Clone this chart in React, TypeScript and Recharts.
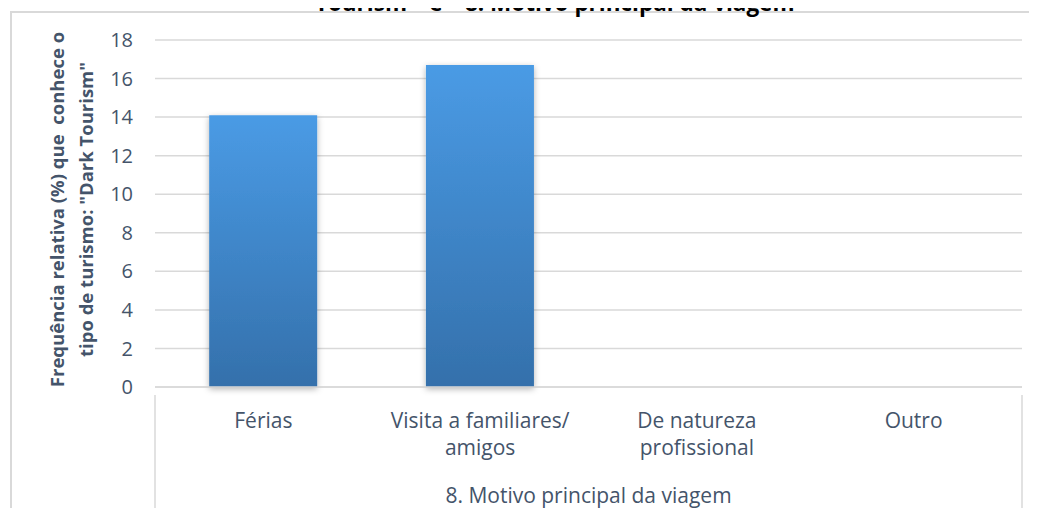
import React from "react";
import { BarChart, Bar, XAxis, YAxis, CartesianGrid } from "recharts";

const categories = ["Férias", "Visita a familiares/\namigos", "De natureza\nprofissional", "Outro"];
const frequencies = [14.1, 16.7, 0, 0];
const yTicks = [0, 2, 4, 6, 8, 10, 12, 14, 16, 18];

const titleText = 'Tourism"  e  "8. Motivo principal da viagem"';
const yLabelLines = ['Frequência relativa (%) que  conhece o', 'tipo de turismo: "Dark Tourism"'];
const groupLabel = "8. Motivo principal da viagem";

const data = categories.map((name, i) => ({ name, value: frequencies[i] }));

const W = 1037;
const H = 516;
const margin = { top: 40, right: 15, left: 0, bottom: 0 };
const yAxisWidth = 155;
const xAxisHeight = 129;
const band = (W - margin.left - margin.right - yAxisWidth) / categories.length;

const textColor = "#44546A";
const gridColor = "#D9D9D9";
const font = "'Open Sans', Lato, sans-serif";

function CategoryTick(props: any) {
  const { x, y, payload, index } = props;
  const lines = String(payload.value).split("\n");
  return (
    <g>
      {index === 0 && (
        <line x1={x - band / 2} y1={y} x2={x - band / 2} y2={y + 123} stroke={gridColor} strokeWidth={1.5} />
      )}
      {index === categories.length - 1 && (
        <line x1={x + band / 2} y1={y} x2={x + band / 2} y2={y + 123} stroke={gridColor} strokeWidth={1.5} />
      )}
      <text x={x} y={y + 33} textAnchor="middle" fill={textColor} fontSize={21} fontFamily={font}>
        {lines.map((l, i) => (
          <tspan key={i} x={x} dy={i === 0 ? 0 : 27}>
            {l}
          </tspan>
        ))}
      </text>
    </g>
  );
}

function YLabel(props: any) {
  const { viewBox } = props;
  const cy = viewBox.y + viewBox.height / 2 - 4;
  const cx = 58;
  return (
    <text
      transform={`translate(${cx}, ${cy}) rotate(-90)`}
      textAnchor="middle"
      fill={textColor}
      fontSize={18.5}
      fontWeight="bold"
      fontFamily={font}
      style={{ whiteSpace: "pre" }}
    >
      {yLabelLines.map((l, i) => (
        <tspan key={i} x={0} dy={i === 0 ? 6 : 29}>
          {l}
        </tspan>
      ))}
    </text>
  );
}

export default function App() {
  return (
    <div
      style={{
        position: "relative",
        width: W,
        height: H,
        margin: -8,
        overflow: "hidden",
        background: "#fff",
        fontFamily: font,
      }}
    >
      <div
        style={{
          position: "absolute",
          left: 10,
          top: 11,
          width: W,
          height: H,
          borderLeft: `2px solid ${gridColor}`,
          borderTop: `2px solid ${gridColor}`,
          boxSizing: "border-box",
        }}
      />
      <svg style={{ position: "absolute", left: 0, top: 0 }} width={W} height={20}>
        <text
          x={560}
          y={11}
          textAnchor="middle"
          fontSize={22.5}
          fontWeight="bold"
          fontFamily={font}
          fill="#000"
          style={{ whiteSpace: "pre" }}
        >
          {titleText}
        </text>
      </svg>
      <div style={{ position: "absolute", left: 0, top: 0 }}>
        <BarChart width={W} height={H} data={data} margin={margin} barCategoryGap="25%">
          <defs>
            <linearGradient id="barFill" x1="0" y1="0" x2="0" y2="1">
              <stop offset="0%" stopColor="#4A9BE5" />
              <stop offset="100%" stopColor="#3470AB" />
            </linearGradient>
            <filter id="barShadow" x="-20%" y="-10%" width="140%" height="120%">
              <feDropShadow dx="0" dy="2" stdDeviation="3" floodColor="#000" floodOpacity="0.3" />
            </filter>
          </defs>
          <CartesianGrid vertical={false} stroke={gridColor} strokeWidth={1.5} />
          <YAxis
            width={yAxisWidth}
            domain={[0, 18]}
            ticks={yTicks}
            axisLine={false}
            tickLine={false}
            tickSize={0}
            tickMargin={22}
            tick={{ fill: textColor, fontSize: 20, fontFamily: font }}
            label={<YLabel />}
          />
          <XAxis
            dataKey="name"
            height={xAxisHeight}
            interval={0}
            axisLine={{ stroke: gridColor, strokeWidth: 1.5 }}
            tickLine={false}
            tick={<CategoryTick />}
            label={{
              value: groupLabel,
              position: "insideBottom",
              offset: 13,
              fill: textColor,
              fontSize: 21,
              fontFamily: font,
            }}
          />
          <Bar
            dataKey="value"
            fill="url(#barFill)"
            filter="url(#barShadow)"
            isAnimationActive={false}
          />
        </BarChart>
      </div>
    </div>
  );
}
